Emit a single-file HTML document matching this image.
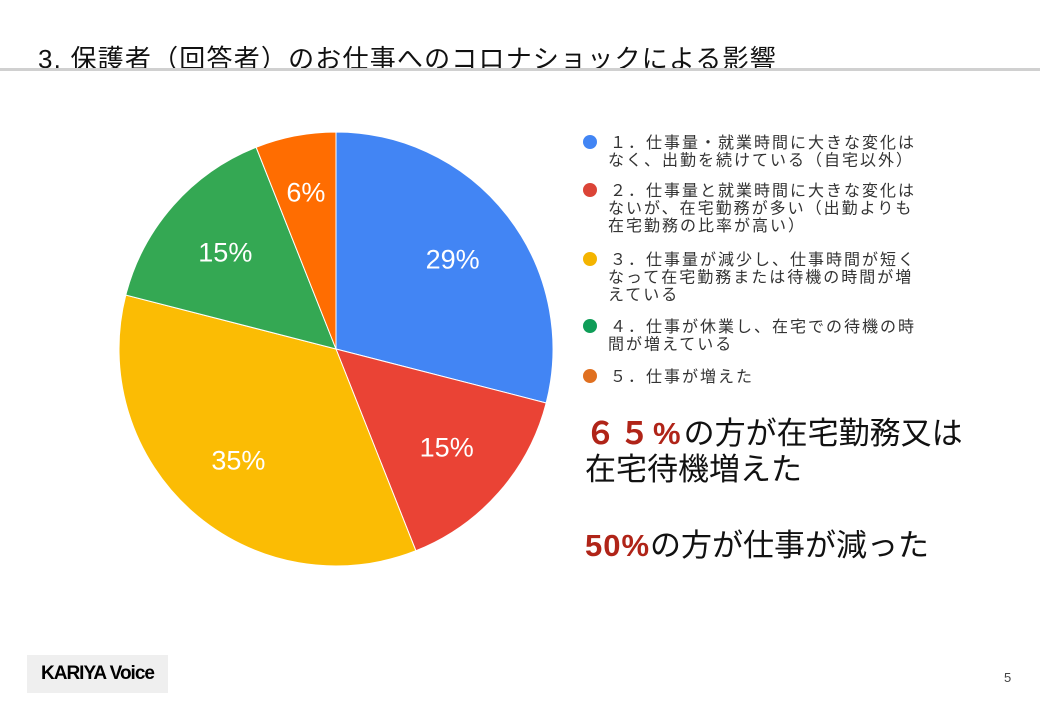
<!DOCTYPE html>
<html><head><meta charset="utf-8">
<style>
body{margin:0;width:1040px;height:720px;background:#fff;overflow:hidden;position:relative;font-family:"Liberation Sans","Noto Sans CJK JP",sans-serif;}
.t{position:absolute;white-space:nowrap;}
</style></head><body>
<div class="t" style="left:38px;top:39px;font-size:26px;color:#111;letter-spacing:1.2px;">3. 保護者（回答者）のお仕事へのコロナショックによる影響</div>
<div style="position:absolute;left:0;top:68px;width:1040px;height:3px;background:#d0d0d0;"></div>
<svg id="chart" width="1040" height="720" style="position:absolute;left:0;top:0"></svg>
<div class="t" style="left:585px;top:408px;font-size:31px;color:#111;"><b style="color:#b02418;letter-spacing:3px">６５%</b>の方が在宅勤務又は</div>
<div class="t" style="left:585px;top:444px;font-size:31px;color:#111;">在宅待機増えた</div>
<div class="t" style="left:585px;top:520px;font-size:31px;color:#111;"><b style="color:#b02418;letter-spacing:1px">50%</b>の方が仕事が減った</div>
<div class="t" style="left:27px;top:655px;width:141px;height:38px;background:#efefef;font-size:19px;font-weight:bold;line-height:38px;text-align:center;color:#000;letter-spacing:-1px;">KARIYA Voice</div>
<div class="t" style="left:1004px;top:670px;font-size:13px;color:#444;">5</div>
<script>
const categories=["１．仕事量・就業時間に大きな変化はなく、出勤を続けている（自宅以外）","２．仕事量と就業時間に大きな変化はないが、在宅勤務が多い（出勤よりも在宅勤務の比率が高い）","３．仕事量が減少し、仕事時間が短くなって在宅勤務または待機の時間が増えている","４．仕事が休業し、在宅での待機の時間が増えている","５．仕事が増えた"];
const legendLines=[["１．仕事量・就業時間に大きな変化は","なく、出勤を続けている（自宅以外）"],["２．仕事量と就業時間に大きな変化は","ないが、在宅勤務が多い（出勤よりも","在宅勤務の比率が高い）"],["３．仕事量が減少し、仕事時間が短く","なって在宅勤務または待機の時間が増","えている"],["４．仕事が休業し、在宅での待機の時","間が増えている"],["５．仕事が増えた"]];
const values=[29,15,35,15,6];
const colors=["#4285f4","#ea4335","#fbbc04","#34a853","#ff6d01"];
const dotColors=["#4285f4","#db4437","#f4b400","#0f9d58","#e07020"];
const svg=document.getElementById('chart');
const NS="http://www.w3.org/2000/svg";
const cx=336,cy=349,R=217;
const total=values.reduce((a,b)=>a+b,0);
function pt(a,r){return [cx+r*Math.sin(a),cy-r*Math.cos(a)];}
let acc=0;
values.forEach((v,i)=>{
  const a0=acc/total*2*Math.PI; acc+=v; const a1=acc/total*2*Math.PI;
  const p0=pt(a0,R),p1=pt(a1,R);
  const path=document.createElementNS(NS,'path');
  path.setAttribute('d',`M${cx},${cy}L${p0[0]},${p0[1]}A${R},${R} 0 ${a1-a0>Math.PI?1:0} 1 ${p1[0]},${p1[1]}Z`);
  path.setAttribute('fill',colors[i]);path.setAttribute('stroke','#fff');path.setAttribute('stroke-width','1');
  
  
  svg.appendChild(path);
  const frac=v/total;
  const lp=pt((a0+a1)/2,R*(frac<0.1?0.74:0.68));
  const t=document.createElementNS(NS,'text');
  t.setAttribute('x',lp[0]);t.setAttribute('y',lp[1]+10);t.setAttribute('text-anchor','middle');
  t.setAttribute('font-size','27');t.setAttribute('fill','#fff');
  t.setAttribute('font-family','"Liberation Sans","Noto Sans CJK JP",sans-serif');
  t.textContent=Math.round(v/total*100)+'%';
  
  
  svg.appendChild(t);
});
const legendTops=[142,190,259,326,376];
legendLines.forEach((lines,i)=>{
  const y=legendTops[i];
  const c=document.createElementNS(NS,'circle');
  c.setAttribute('cx',590);c.setAttribute('cy',y);c.setAttribute('r',7);c.setAttribute('fill',dotColors[i]);
  
  
  svg.appendChild(c);
  lines.forEach((ln,j)=>{
    const t=document.createElementNS(NS,'text');
    t.setAttribute('x',j===0?610:608);t.setAttribute('y',y+6+j*17.5);
    t.setAttribute('font-size','16');t.setAttribute('fill','#333');t.setAttribute('letter-spacing','2');
    t.setAttribute('font-family','"Liberation Sans","Noto Sans CJK JP",sans-serif');
    t.textContent=ln;
    
    
    svg.appendChild(t);
  });
});
</script>
</body></html>
